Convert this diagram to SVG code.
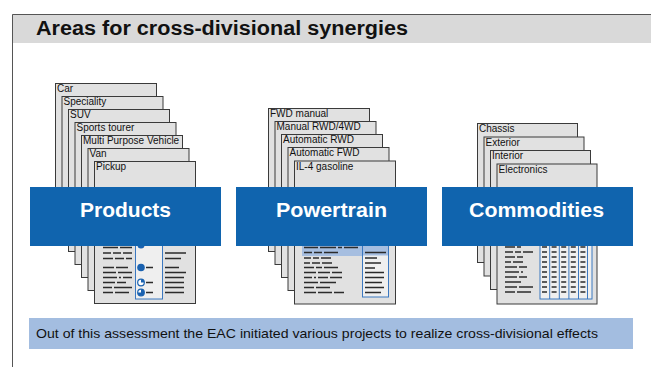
<svg xmlns="http://www.w3.org/2000/svg" width="651" height="367" viewBox="0 0 651 367">
<style>
.page{fill:#e1e1e1;stroke:#3a3a3a;stroke-width:1}
.lbl{font-family:"Liberation Sans Narrow","Liberation Sans",Arial,sans-serif;font-size:10px;fill:#111}
.box{fill:#1064ae}
.boxt{font-family:"Liberation Sans Narrow","Liberation Sans",Arial,sans-serif;font-size:21px;font-weight:bold;fill:#fff}
.txt{stroke:#2b2b2b;stroke-width:1.3;fill:none}
.col{fill:#efefef;stroke:#3b78c0;stroke-width:1}
.dot{fill:#1a62b0}
</style>
<g id="frame">
<rect x="12" y="14" width="639" height="29" fill="#d9d9d9"/>
<path d="M12.5 367 V14.5 H651" fill="none" stroke="#555" stroke-width="1"/>
<text x="36" y="35" font-family="'Liberation Sans Narrow','Liberation Sans',Arial,sans-serif" font-size="20" font-weight="bold" fill="#111" textLength="372" lengthAdjust="spacingAndGlyphs">Areas for cross-divisional synergies</text>
</g>
<g id="products-stack">
<rect class="page" x="55.5" y="83.5" width="101" height="142"/><text class="lbl" x="57" y="92">Car</text>
<rect class="page" x="62" y="96.5" width="101" height="142"/><text class="lbl" x="63.5" y="105">Speciality</text>
<rect class="page" x="68.5" y="109.5" width="101" height="142"/><text class="lbl" x="70" y="118">SUV</text>
<rect class="page" x="75" y="122.5" width="101" height="142"/><text class="lbl" x="76.5" y="131">Sports tourer</text>
<rect class="page" x="81.5" y="135.5" width="101" height="142"/><text class="lbl" x="83" y="144">Multi Purpose Vehicle</text>
<rect class="page" x="88" y="148.5" width="101" height="142"/><text class="lbl" x="89.5" y="157">Van</text>
<rect class="page" x="94.5" y="161.5" width="101" height="142"/><text class="lbl" x="96" y="170">Pickup</text>
<rect class="col" x="135.5" y="238" width="27" height="61"/>
<path class="txt" d="M103 247.5h15M120 247.5h12M103 253h8M113 253h8M123 253h9M103 258.5h10M115 258.5h9M126 258.5h6M103 267.5h11M116 267.5h12M103 272.5h13M118 272.5h14M103 277.5h14M119 277.5h2M123 277.5h9M103 282.5h12M117 282.5h9M103 287.5h9M114 287.5h18M103 292.5h10M115 292.5h14"/>
<path class="txt" d="M146 267.5h7M146 282.5h7M146 292.5h7M165 253h21M165 258.5h16M165 267.5h14M165 272.5h21M165 277.5h19M165 282.5h19M165 287.5h19M165 292.5h19"/>
<circle class="dot" cx="141" cy="245" r="3.5"/>
<circle class="dot" cx="141" cy="267.5" r="3.8"/>
<circle cx="141" cy="282.5" r="3.3" fill="#fff" stroke="#1a62b0" stroke-width="1.2"/>
<path class="dot" d="M141 282.5 V279.2 A3.3 3.3 0 0 1 144.3 282.5 Z"/>
<circle cx="141" cy="292.5" r="3.3" fill="#fff" stroke="#1a62b0" stroke-width="1.2"/>
<path class="dot" d="M141 292.5 V289.2 A3.3 3.3 0 1 1 137.7 292.5 Z"/>
</g>
<g id="powertrain-stack">
<rect class="page" x="268.5" y="108.5" width="101" height="143"/><text class="lbl" x="270" y="117">FWD manual</text>
<rect class="page" x="275" y="121.5" width="101" height="143"/><text class="lbl" x="276.5" y="130">Manual RWD/4WD</text>
<rect class="page" x="281.5" y="134.5" width="101" height="143"/><text class="lbl" x="283" y="143">Automatic RWD</text>
<rect class="page" x="288" y="147.5" width="101" height="143"/><text class="lbl" x="289.5" y="156">Automatic FWD</text>
<rect class="page" x="294.5" y="161" width="101" height="143"/><text class="lbl" x="296" y="169.5">IL-4 gasoline</text>
<rect x="302" y="240" width="60" height="16" fill="#a6bee0"/>
<rect class="col" x="362.5" y="240" width="26" height="57"/>
<rect x="363" y="240" width="25" height="15.5" fill="#a6bee0"/>
<path class="txt" d="M304 247.5h14M320 247.5h16M338 247.5h4M344 247.5h14M304 252.5h8M314 252.5h8M324 252.5h14M304 258h7M313 258h6M321 258h10M304 263h6M312 263h8M322 263h10M304 267.5h10M316 267.5h6M324 267.5h14M304 272.5h12M318 272.5h12M332 272.5h10M304 277.5h8M314 277.5h2M318 277.5h10M330 277.5h12M304 282.5h14M320 282.5h16M304 287.5h10M316 287.5h14M304 292.5h12M318 292.5h14M334 292.5h10"/>
<path class="txt" d="M365 252.5h21M365 258h12M365 263h16M365 268h10M365 272.5h19M365 277.5h19M365 282.5h17M365 287.5h19M365 292.5h16"/>
</g>
<g id="commodities-stack">
<rect class="page" x="477.5" y="123.5" width="100" height="139"/><text class="lbl" x="479" y="132">Chassis</text>
<rect class="page" x="484" y="137" width="100" height="139"/><text class="lbl" x="485.5" y="145.5">Exterior</text>
<rect class="page" x="490.5" y="150.5" width="100" height="139"/><text class="lbl" x="492" y="159">Interior</text>
<rect class="page" x="497" y="164" width="100" height="140"/><text class="lbl" x="498.5" y="172.5">Electronics</text>
<path class="txt" d="M505 247h10M517 247h4M505 252h8M515 252h6M523 252h10M505 257h10M517 257h6M505 262h6M513 262h10M505 267h12M519 267h8M505 272h14M521 272h2M505 277h12M519 277h8M505 282h16M505 287h12M519 287h14M505 292h10M517 292h14"/>
<rect class="col" x="540" y="240" width="52" height="59"/>
<path d="M549.7 240V299M559.3 240V299M568.9 240V299M578.5 240V299M587.5 240V299" stroke="#3b78c0" stroke-width="1" fill="none"/>
<path class="txt" stroke-dasharray="5 4.6" d="M542 247h48M542 252h48M542 257h48M542 262h48M542 267h48M542 272h48M542 277h48M542 282h48M542 287h48M542 292h48"/>
</g>
<g id="connectors"></g>
<g id="node-products"><rect class="box" x="30" y="187" width="191" height="59"/><text class="boxt" x="80" y="217" textLength="91" lengthAdjust="spacingAndGlyphs">Products</text></g>
<g id="node-powertrain"><rect class="box" x="236" y="187" width="191" height="59"/><text class="boxt" x="276" y="217" textLength="111" lengthAdjust="spacingAndGlyphs">Powertrain</text></g>
<g id="node-commodities"><rect class="box" x="442" y="187" width="191" height="59"/><text class="boxt" x="469" y="217" textLength="135" lengthAdjust="spacingAndGlyphs">Commodities</text></g>
<g id="banner">
<rect x="29" y="318" width="604" height="31" fill="#a3bde0"/>
<text x="36" y="338" font-family="'Liberation Sans Narrow','Liberation Sans',Arial,sans-serif" font-size="13" fill="#111" textLength="562" lengthAdjust="spacingAndGlyphs">Out of this assessment the EAC initiated various projects to realize cross-divisional effects</text>
</g>
</svg>
